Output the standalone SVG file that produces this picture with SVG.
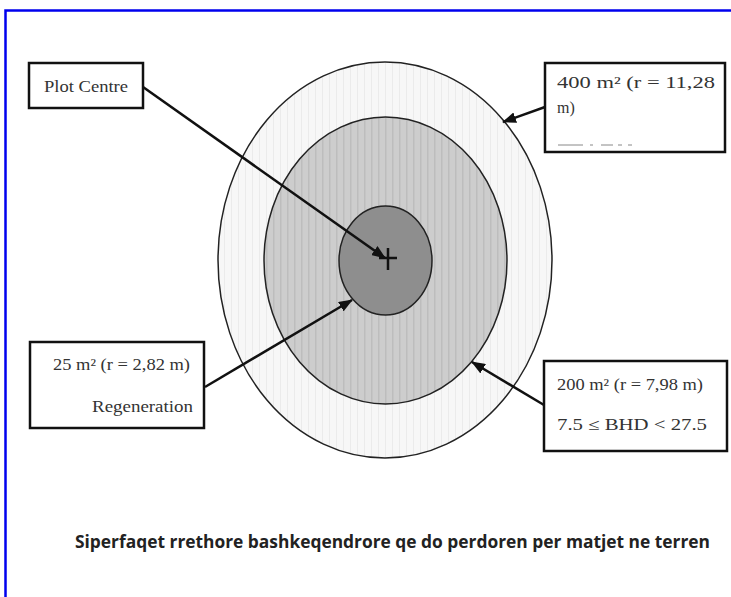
<svg xmlns="http://www.w3.org/2000/svg" width="731" height="597" viewBox="0 0 731 597">
<style>
.box{fill:#fff;stroke:#111;stroke-width:2.5}
.lbl{font-family:"Liberation Serif",serif;font-size:16px;fill:#333}
.ring{stroke:#222;stroke-width:1.5}
.conn{stroke:#111;stroke-width:2.5;fill:none;marker-end:url(#ah)}
.cap{font-family:"Open Sans","Liberation Sans",sans-serif;font-weight:bold;font-size:17px;fill:#222}
</style>
<defs>
<marker id="ah" markerWidth="14" markerHeight="11" refX="13" refY="5.5" orient="auto" markerUnits="userSpaceOnUse">
<path d="M0,0 L14,5.5 L0,11 Z" fill="#111"/>
</marker>
<pattern id="stOuter" width="7" height="10" patternUnits="userSpaceOnUse">
<rect width="7" height="10" fill="#f7f7f7"/>
<rect width="1" height="10" fill="#ebebeb"/>
</pattern>
<pattern id="stMid" width="7" height="10" patternUnits="userSpaceOnUse">
<rect width="7" height="10" fill="#cdcdcd"/>
<rect width="1.5" height="10" fill="#bdbdbd"/>
</pattern>
</defs>
<rect width="731" height="597" fill="#fff"/>
<rect x="5.5" y="10.5" width="740" height="600" fill="none" stroke="#0000ee" stroke-width="2.5"/>

<g id="plot-circles">
<ellipse id="outer" class="ring" cx="385" cy="260" rx="167" ry="198" fill="url(#stOuter)"/>
<ellipse id="middle" class="ring" cx="385.5" cy="260.5" rx="121.5" ry="143.5" fill="url(#stMid)"/>
<ellipse id="inner" class="ring" cx="385.5" cy="260.5" rx="46.5" ry="54.5" fill="#8e8e8e"/>
<path d="M379,258 H397 M388,248 V270" stroke="#111" stroke-width="2.5"/>
</g>

<g id="plot-centre">
<rect class="box" x="29" y="63" width="114" height="45"/>
<text class="lbl" x="44" y="92" textLength="84" lengthAdjust="spacingAndGlyphs">Plot Centre</text>
</g>

<g id="area-400">
<rect class="box" x="545" y="63" width="180" height="89"/>
<text class="lbl" x="557" y="88" textLength="158" lengthAdjust="spacingAndGlyphs">400  m² (r  =  11,28</text>
<text class="lbl" x="557" y="113">m)</text>
<path d="M558,145 H583 M590,145 H593 M601,145 H613 M618,145 H622 M628,145 H632" stroke="#888" stroke-width="1"/>
</g>

<g id="area-25">
<rect class="box" x="30" y="342" width="174" height="86"/>
<text class="lbl" x="53" y="370" textLength="137" lengthAdjust="spacingAndGlyphs">25 m² (r = 2,82 m)</text>
<text class="lbl" x="92" y="412" textLength="101" lengthAdjust="spacingAndGlyphs">Regeneration</text>
</g>

<g id="area-200">
<rect class="box" x="544" y="361" width="183" height="90"/>
<text class="lbl" x="557" y="390" textLength="146" lengthAdjust="spacingAndGlyphs">200 m² (r = 7,98 m)</text>
<text class="lbl" x="557" y="430" textLength="150" lengthAdjust="spacingAndGlyphs">7.5  ≤  BHD  &lt;  27.5</text>
</g>

<g id="connectors">
<line class="conn" x1="143" y1="87" x2="385" y2="258"/>
<line class="conn" x1="545" y1="107" x2="503" y2="122"/>
<line class="conn" x1="205" y1="387" x2="352" y2="300"/>
<line class="conn" x1="544" y1="405" x2="472" y2="362"/>
</g>

<g id="caption">
<text class="cap" x="75" y="548" textLength="635" lengthAdjust="spacingAndGlyphs">Siperfaqet rrethore bashkeqendrore qe do perdoren per matjet ne terren</text>
</g>
</svg>
